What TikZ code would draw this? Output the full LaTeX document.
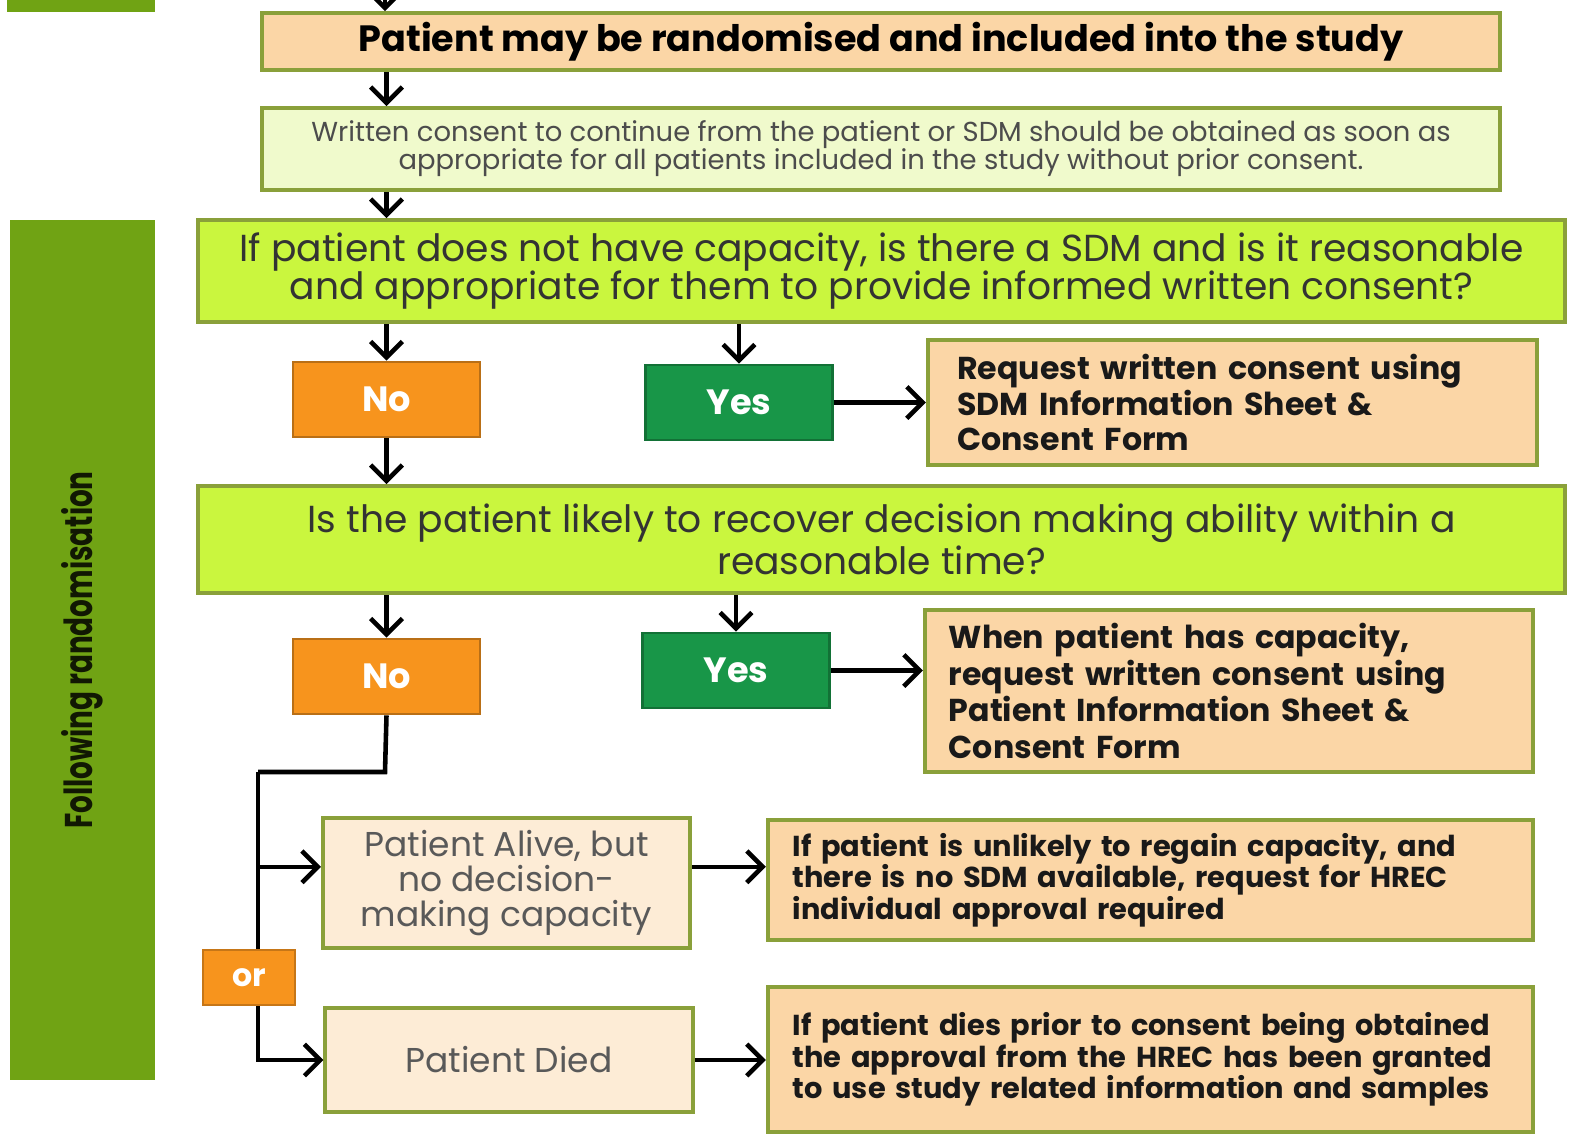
\documentclass[tikz,border=0pt]{standalone}
\usepackage{fontspec}
\setmainfont{Poppins}
\usetikzlibrary{arrows.meta,positioning,calc}
\definecolor{boxrim}{RGB}{138,160,58}
\definecolor{peach}{RGB}{251,214,166}
\definecolor{paleblush}{RGB}{253,236,214}
\definecolor{palelime}{RGB}{240,250,204}
\definecolor{lime}{RGB}{202,246,62}
\definecolor{barolive}{RGB}{112,163,20}
\definecolor{noorange}{RGB}{247,148,29}
\definecolor{yesgreen}{RGB}{24,150,72}

\begin{document}
\begin{tikzpicture}[x=0.01cm, y=-0.01cm,
    box/.style={draw=boxrim, line width=1.1pt, align=center, inner sep=2pt},
    wide/.style={box, fill=lime, minimum width=13.67cm, text=black!80, font=\fontsize{10.7}{11}\selectfont},
    action/.style={box, fill=peach, align=left, text=black!90, font=\bfseries\fontsize{9}{10.1}\selectfont},
    outcome/.style={box, fill=paleblush, minimum width=3.67cm, text=black!65, font=\fontsize{9.8}{10}\selectfont},
    answer/.style={draw=#1!75!black, fill=#1, line width=0.8pt, text=white, minimum width=1.87cm, minimum height=0.75cm, font=\bfseries\fontsize{10}{11}\selectfont},
    arr/.style={-{Straight Barb[length=4.5pt, width=9pt]}, line width=1.3pt},
    link/.style={line width=1.3pt},
]
\useasboundingbox (0,0) rectangle (1575,1138);
\fill[barolive] (7,-30) rectangle (155,12);
\node[fill=barolive, minimum width=1.45cm, minimum height=8.6cm] (sidebar) at (82.5,650) {};
\node[rotate=90, text=black!85!barolive, font=\bfseries\fontsize{11}{12}\selectfont] (sidelabel) at (sidebar.center) {\scalebox{0.72}[1]{Following randomisation}};

\coordinate (entry) at (385,-5);
\node[box, fill=peach, minimum width=12.38cm, minimum height=0.57cm, font=\bfseries\fontsize{10.4}{11}\selectfont] (rand) at (881,41.5) {Patient may be randomised and included into the study};
\node[box, fill=palelime, minimum width=12.38cm, minimum height=0.82cm, text=black!70, font=\fontsize{7.8}{8}\selectfont] (written) at (881,149) {Written consent to continue from the patient or SDM should be obtained as soon as\\appropriate for all patients included in the study without prior consent.};
\node[wide, minimum height=1.02cm] (sdmq) at (881.5,271) {If patient does not have capacity, is there a SDM and is it reasonable\\and appropriate for them to provide informed written consent?};

\node[answer=noorange] (no1) at (386.5,399.5) {No};
\node[answer=yesgreen] (yes1) at (739,402.5) {Yes};
\node[action, minimum width=6.09cm, minimum height=1.25cm, text width=5.5cm] (req1) at (1232.5,402.5) {Request written consent using\\SDM Information Sheet \&\\Consent Form};

\node[wide, minimum height=1.07cm] (recov) at (881.5,539.5) {Is the patient likely to recover decision making ability within a\\reasonable time?};

\node[answer=noorange] (no2) at (386.5,676.5) {No};
\node[answer=yesgreen] (yes2) at (736,670.5) {Yes};
\node[action, minimum width=6.08cm, minimum height=1.62cm, text width=5.6cm, font=\bfseries\fontsize{9}{10.4}\selectfont] (req2) at (1229,691) {When patient has capacity,\\request written consent using\\Patient Information Sheet \&\\Consent Form};

\node[outcome, minimum height=1.3cm] (alive) at (506.5,883) {Patient Alive, but\\no decision-\\making capacity};
\node[outcome, minimum height=1.04cm] (died) at (509,1060) {Patient Died};
\node[action, minimum width=7.65cm, minimum height=1.2cm, text width=7.15cm, font=\bfseries\fontsize{8.2}{8.9}\selectfont] (hrec1) at (1150.5,880) {If patient is unlikely to regain capacity, and\\there is no SDM available, request for HREC\\individual approval required};
\node[action, minimum width=7.65cm, minimum height=1.45cm, text width=7.15cm, font=\bfseries\fontsize{8.2}{8.9}\selectfont] (hrec2) at (1150.5,1059.5) {If patient dies prior to consent being obtained\\the approval from the HREC has been granted\\to use study related information and samples\\[3pt]};

\coordinate (elbow) at (385,772);
\coordinate (trunk) at (258,772);

\draw[arr] (entry) -- (rand.north -| entry);
\draw[arr] (rand.south -| no1.north) -- (written.north -| no1.north);
\draw[arr] (written.south -| no1.north) -- (sdmq.north -| no1.north);
\draw[arr] (sdmq.south -| no1.north) -- (no1.north);
\draw[arr] (sdmq.south -| yes1.north) -- (yes1.north);
\draw[arr] (yes1.east) -- (yes1.east -| req1.west);
\draw[arr] (no1.south) -- (recov.north -| no1.south);
\draw[arr] (recov.south -| no2.north) -- (no2.north);
\draw[arr] (recov.south -| yes2.north) -- (yes2.north);
\draw[arr] (yes2.east) -- (yes2.east -| req2.west);
\draw[link] (no2.south) -- (elbow) -- (trunk);
\draw[arr] (trunk) |- (died.west);
\draw[arr] (trunk |- alive.175) -- (alive.175);
\draw[arr] (alive.5) -- (alive.5 -| hrec1.west);
\draw[arr] (died.east) -- (died.east -| hrec2.west);

\node[fill=noorange, draw=noorange!80!black, line width=0.6pt, minimum width=0.92cm, minimum height=0.55cm, text=white, font=\bfseries\fontsize{9}{10}\selectfont] (orbox) at (249,977.5) {or};
\end{tikzpicture}
\end{document}
